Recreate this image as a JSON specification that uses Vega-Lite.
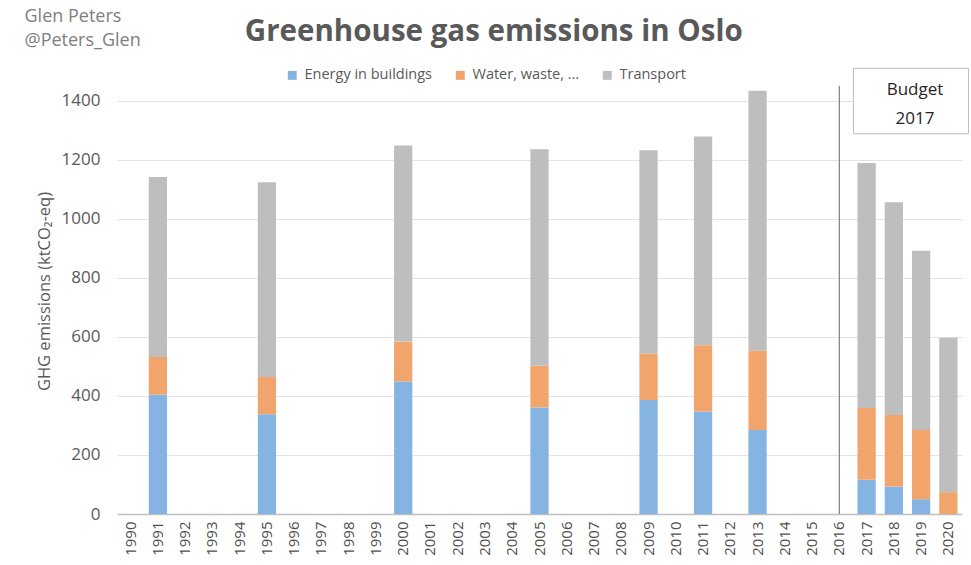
{
  "$schema": "https://vega.github.io/schema/vega-lite/v6.json",
  "width": 845,
  "height": 428,
  "autosize": "none",
  "padding": {"left": 117, "top": 86, "right": 9, "bottom": 51},
  "background": "white",
  "title": {
    "text": "Greenhouse gas emissions in Oslo",
    "fontSize": 29.5,
    "font": "Open Sans",
    "fontWeight": "bold",
    "color": "#595959",
    "anchor": "middle",
    "frame": "bounds",
    "offset": -40,
    "dx": -3
  },
  "config": {
    "view": {"stroke": null},
    "font": "Open Sans",
    "text": {"font": "Open Sans"}
  },
  "layer": [
    {
      "data": {
        "values": [
          {"year": "1991", "category": "Energy in buildings", "ord": 1, "value": 405},
          {"year": "1991", "category": "Water, waste, ...", "ord": 2, "value": 127},
          {"year": "1991", "category": "Transport", "ord": 3, "value": 610},
          {"year": "1995", "category": "Energy in buildings", "ord": 1, "value": 338},
          {"year": "1995", "category": "Water, waste, ...", "ord": 2, "value": 126},
          {"year": "1995", "category": "Transport", "ord": 3, "value": 660},
          {"year": "2000", "category": "Energy in buildings", "ord": 1, "value": 449},
          {"year": "2000", "category": "Water, waste, ...", "ord": 2, "value": 135},
          {"year": "2000", "category": "Transport", "ord": 3, "value": 664},
          {"year": "2005", "category": "Energy in buildings", "ord": 1, "value": 361},
          {"year": "2005", "category": "Water, waste, ...", "ord": 2, "value": 141},
          {"year": "2005", "category": "Transport", "ord": 3, "value": 734},
          {"year": "2009", "category": "Energy in buildings", "ord": 1, "value": 386},
          {"year": "2009", "category": "Water, waste, ...", "ord": 2, "value": 158},
          {"year": "2009", "category": "Transport", "ord": 3, "value": 688},
          {"year": "2011", "category": "Energy in buildings", "ord": 1, "value": 347},
          {"year": "2011", "category": "Water, waste, ...", "ord": 2, "value": 225},
          {"year": "2011", "category": "Transport", "ord": 3, "value": 707},
          {"year": "2013", "category": "Energy in buildings", "ord": 1, "value": 285},
          {"year": "2013", "category": "Water, waste, ...", "ord": 2, "value": 268},
          {"year": "2013", "category": "Transport", "ord": 3, "value": 881},
          {"year": "2017", "category": "Energy in buildings", "ord": 1, "value": 116},
          {"year": "2017", "category": "Water, waste, ...", "ord": 2, "value": 243},
          {"year": "2017", "category": "Transport", "ord": 3, "value": 830},
          {"year": "2018", "category": "Energy in buildings", "ord": 1, "value": 93},
          {"year": "2018", "category": "Water, waste, ...", "ord": 2, "value": 242},
          {"year": "2018", "category": "Transport", "ord": 3, "value": 721},
          {"year": "2019", "category": "Energy in buildings", "ord": 1, "value": 50},
          {"year": "2019", "category": "Water, waste, ...", "ord": 2, "value": 235},
          {"year": "2019", "category": "Transport", "ord": 3, "value": 607},
          {"year": "2020", "category": "Energy in buildings", "ord": 1, "value": 0},
          {"year": "2020", "category": "Water, waste, ...", "ord": 2, "value": 74},
          {"year": "2020", "category": "Transport", "ord": 3, "value": 523}
        ]
      },
      "mark": {"type": "bar"},
      "encoding": {
        "x": {
          "field": "year",
          "type": "ordinal",
          "scale": {
            "domain": ["1990","1991","1992","1993","1994","1995","1996","1997","1998","1999","2000","2001","2002","2003","2004","2005","2006","2007","2008","2009","2010","2011","2012","2013","2014","2015","2016","2017","2018","2019","2020"],
            "paddingInner": 0.33,
            "paddingOuter": 0.165
          },
          "axis": {
            "title": null,
            "labelAngle": 270,
            "labelAlign": "right",
            "labelBaseline": "middle",
            "labelFontSize": 15,
            "labelColor": "#505050",
            "labelPadding": 7,
            "ticks": false,
            "domainColor": "#bfbfbf",
            "domainWidth": 1.5,
            "grid": false
          }
        },
        "y": {
          "field": "value",
          "type": "quantitative",
          "stack": "zero",
          "scale": {"domain": [0, 1450], "nice": false},
          "axis": {
            "values": [0, 200, 400, 600, 800, 1000, 1200, 1400],
            "title": "GHG emissions (ktCO₂-eq)",
            "titleFontSize": 16.5,
            "titleFontWeight": "normal",
            "titleColor": "#595959",
            "titlePadding": 9,
            "titleY": 205,
            "labelFontSize": 17,
            "labelColor": "#595959",
            "labelPadding": 17,
            "domain": false,
            "ticks": false,
            "grid": true,
            "gridColor": "#e3e3e3",
            "format": "d"
          }
        },
        "color": {
          "field": "category",
          "type": "nominal",
          "scale": {
            "domain": ["Energy in buildings", "Water, waste, ...", "Transport"],
            "range": ["#85b4e2", "#f1a46c", "#bebebe"]
          },
          "legend": {
            "title": null,
            "orient": "none",
            "legendX": 168,
            "legendY": -18,
            "direction": "horizontal",
            "symbolType": "square",
            "symbolSize": 80,
            "symbolStrokeWidth": 0,
            "labelFontSize": 14.5,
            "labelColor": "#595959",
            "labelOffset": 5,
            "columnPadding": 20
          }
        },
        "order": {"field": "ord", "type": "quantitative"}
      }
    },
    {
      "data": {"values": [{"year": "2016", "y0": 0, "y1": 1450}]},
      "mark": {"type": "rule", "color": "#7f7f7f", "strokeWidth": 1.2},
      "encoding": {
        "x": {"field": "year", "type": "ordinal"},
        "y": {"field": "y0", "type": "quantitative"},
        "y2": {"field": "y1"}
      }
    },
    {
      "data": {"values": [{"x0": "2017", "x1": "2020", "top": 1510, "bottom": 1288}]},
      "mark": {"type": "rect", "fill": "white", "stroke": "#bfbfbf", "strokeWidth": 1, "clip": false, "xOffset": -4, "x2Offset": 11},
      "encoding": {
        "x": {"field": "x0", "type": "ordinal", "bandPosition": 0},
        "x2": {"field": "x1", "bandPosition": 1},
        "y": {"field": "top", "type": "quantitative"},
        "y2": {"field": "bottom"}
      }
    },
    {
      "data": {"values": [{"x": "2019", "y": 1436, "label": "Budget"}, {"x": "2019", "y": 1337, "label": "2017"}]},
      "mark": {"type": "text", "fontSize": 17, "color": "#262626", "align": "center", "baseline": "middle", "dx": 3, "clip": false},
      "encoding": {
        "x": {"field": "x", "type": "ordinal", "bandPosition": 0},
        "y": {"field": "y", "type": "quantitative"},
        "text": {"field": "label"}
      }
    },
    {
      "data": {"values": [{"x": "1990", "y": 1684, "label": "Glen Peters"}, {"x": "1990", "y": 1601, "label": "@Peters_Glen"}]},
      "mark": {"type": "text", "fontSize": 18, "color": "#808080", "align": "left", "baseline": "middle", "dx": -97, "clip": false},
      "encoding": {
        "x": {"field": "x", "type": "ordinal", "bandPosition": 0},
        "y": {"field": "y", "type": "quantitative"},
        "text": {"field": "label"}
      }
    }
  ]
}
